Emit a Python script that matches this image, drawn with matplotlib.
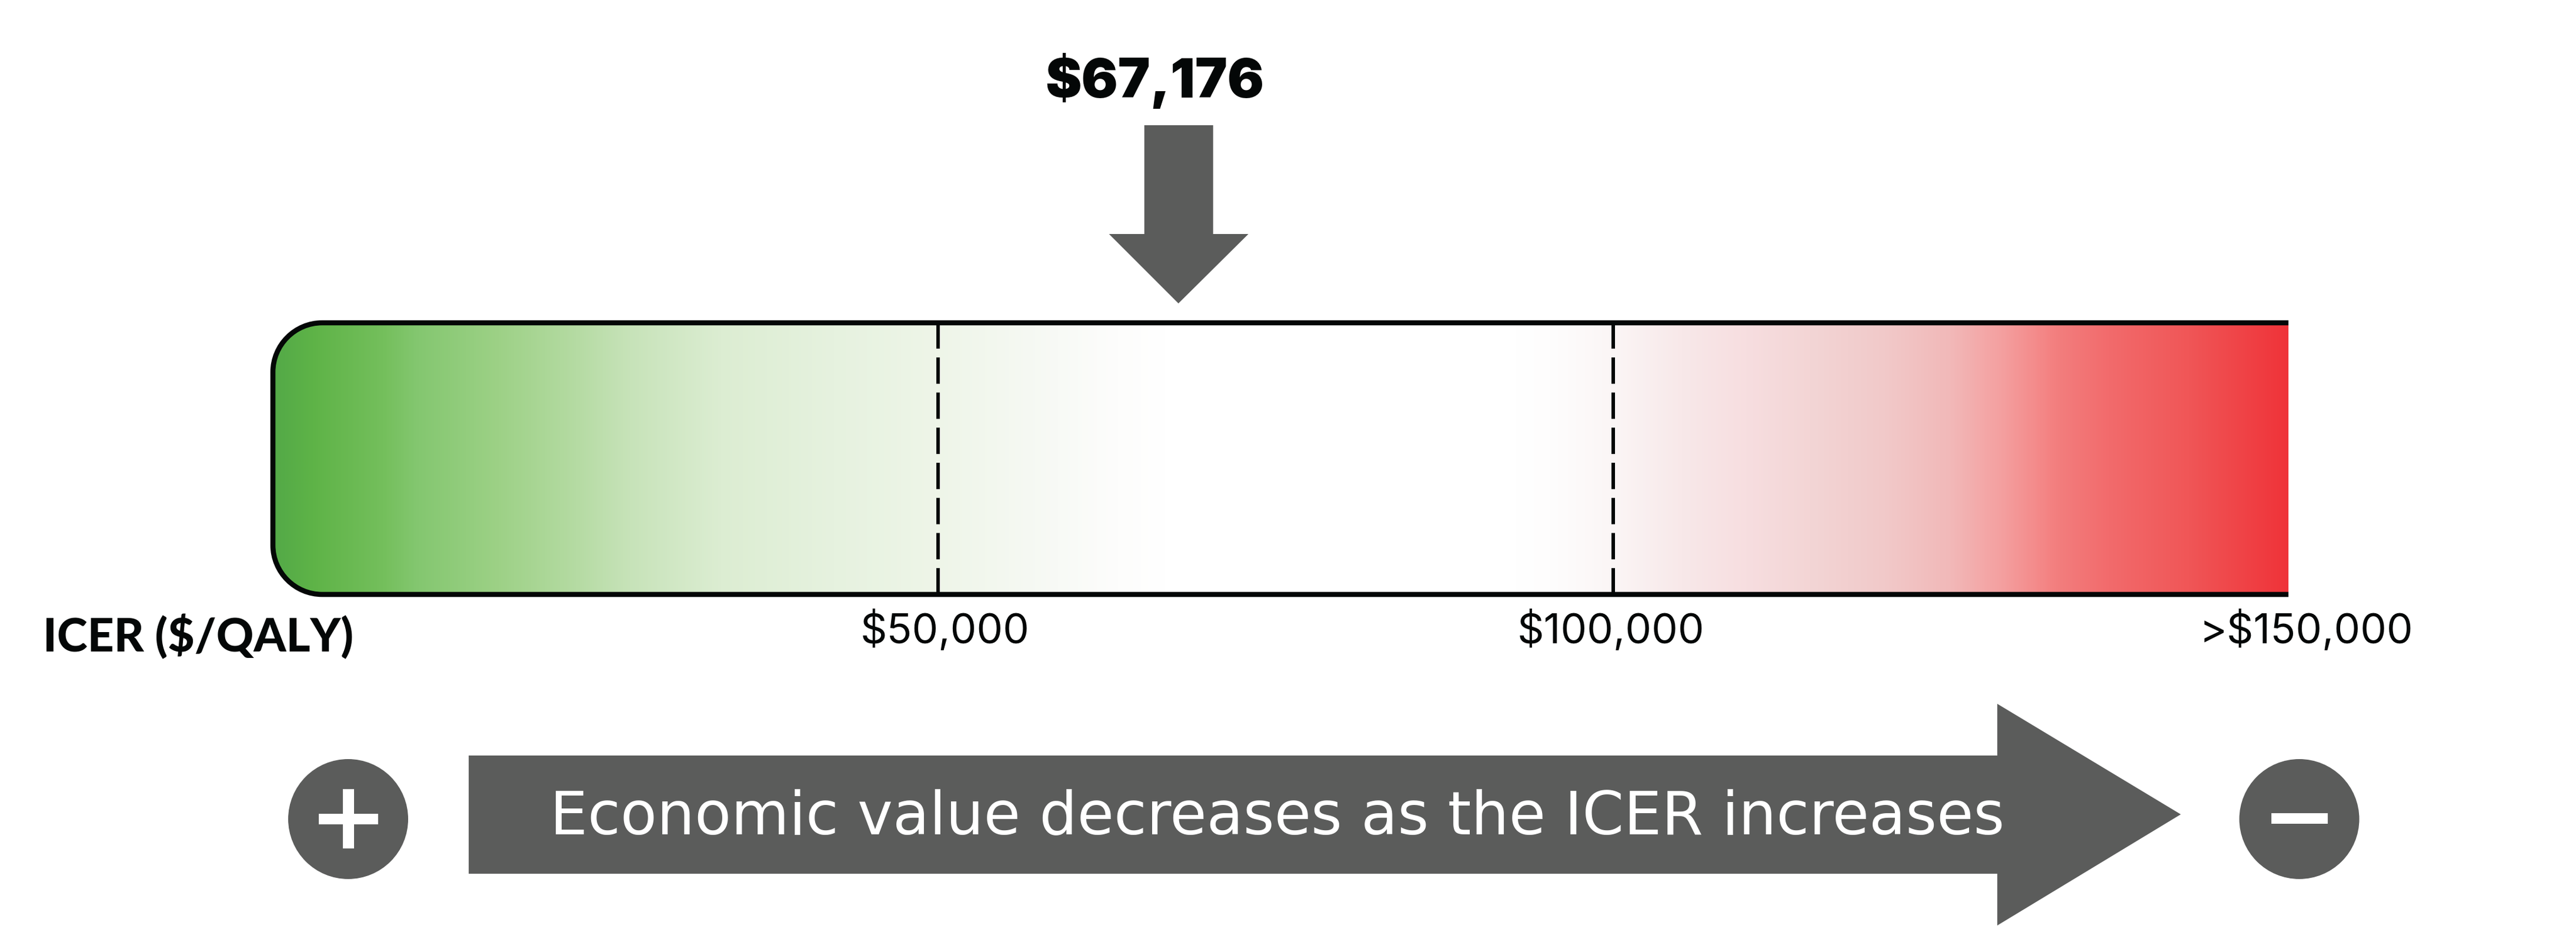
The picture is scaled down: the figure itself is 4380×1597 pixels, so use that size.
import numpy as np
import matplotlib
matplotlib.use("Agg")
import matplotlib.pyplot as plt
from matplotlib.colors import LinearSegmentedColormap
from matplotlib.patches import Circle, PathPatch, Polygon, Rectangle
from matplotlib.path import Path

W, H = 4380, 1597
GREY = "#5b5c5b"
INK = "#040707"

icer_label = "$67,176"
arrow_value = 67800  # where the arrow actually sits on the scale
thresholds = [50000, 100000]
tick_labels = ["$50,000", "$100,000", ">$150,000"]
tick_centers = [1607, 2739, 3922]
axis_label = "ICER ($/QALY)"
banner_text = "Economic value decreases as the ICER increases"

stop_values = [740, 1000, 3600, 8840, 11450, 17380, 23200, 27130, 33900, 42250, 49740,
               58930, 63280, 66770, 92900, 95340, 99870, 105180, 109930, 114680,
               120170, 124910, 128880, 132800, 136760, 142680, 150000]
stop_colors = ["#52a947", "#54aa47", "#5eb347", "#74bf5c", "#84c770", "#9dd186",
               "#b5dba3", "#c7e3b9", "#dcedd2", "#e6f2df", "#eef5e8", "#f8faf6",
               "#fdfdfc", "#ffffff", "#ffffff", "#fefdfd", "#fbf6f6", "#f8e8e9",
               "#f7dee0", "#f3d5d5", "#f1c9c9", "#f2b9b9", "#f49f9f", "#f37f7f",
               "#f26b6c", "#f05657", "#ef3339"]

def to_px(v):
    return 447 + v * 3444 / 150000

fig = plt.figure(figsize=(W / 100, H / 100), dpi=100)

# gradient bar lives on the dollar scale
ax_bar = fig.add_axes([464 / W, (H - 1011) / H, (3891 - 464) / W, 462 / H])
ax_bar.set_xlim(740, 150000)
ax_bar.set_ylim(0, 1)
ax_bar.axis("off")

pos = [(v - stop_values[0]) / (stop_values[-1] - stop_values[0]) for v in stop_values]
cmap = LinearSegmentedColormap.from_list("icer", list(zip(pos, stop_colors)), N=1024)
im = ax_bar.imshow(np.linspace(0, 1, 2048).reshape(1, -1), cmap=cmap, aspect="auto",
                   extent=(740, 150000, 0, 1), zorder=1)
for t in thresholds:
    ax_bar.plot([t, t], [0, 1], color=INK, lw=4.3, dashes=(7.5, 2.5),
                dash_capstyle="butt", zorder=2)

# everything else in pixel coordinates of the picture
ax = fig.add_axes([0, 0, 1, 1], facecolor="none")
ax.set_xlim(0, W)
ax.set_ylim(H, 0)
ax.axis("off")

left, right, top, bottom, r = 464, 3891, 549, 1011, 84
k = 0.448 * r
verts = [(right, top), (left + r, top),
         (left + k, top), (left, top + k), (left, top + r),
         (left, bottom - r),
         (left, bottom - k), (left + k, bottom), (left + r, bottom),
         (right, bottom)]
codes = [Path.MOVETO, Path.LINETO, Path.CURVE4, Path.CURVE4, Path.CURVE4, Path.LINETO,
         Path.CURVE4, Path.CURVE4, Path.CURVE4, Path.LINETO]
outline = PathPatch(Path(verts, codes), fc="none", ec=INK, lw=6.2, capstyle="butt", zorder=3)
ax.add_patch(outline)

clip = Path(verts + [(right, top)], codes + [Path.LINETO])
im.set_clip_path(clip, ax.transData)

# arrow above the bar
cx = to_px(arrow_value)
ax.add_patch(Polygon([(cx - 58, 213), (cx + 59, 213), (cx + 59, 398), (cx + 119, 398),
                      (cx, 516), (cx - 118, 398), (cx - 58, 398)], fc=GREY, ec="none"))
ax.text(1963, 166, icer_label, family="Inter", weight="black", fontsize=66.5,
        color=INK, ha="center", va="baseline")

ax.text(73, 1108, axis_label, family="Lato", weight="black", fontsize=56.5,
        color=INK, ha="left", va="baseline")
for lab, c in zip(tick_labels, tick_centers):
    ax.text(c, 1094, lab, family="Inter", weight="regular", fontsize=51,
            color=INK, ha="center", va="baseline")

# banner arrow
ax.add_patch(Polygon([(797, 1285), (3396, 1285), (3396, 1197), (3708, 1385),
                      (3396, 1574), (3396, 1486), (797, 1486)], fc=GREY, ec="none"))
ax.text(2172, 1418, banner_text, family="DejaVu Sans", fontsize=73,
        color="white", ha="center", va="baseline")

# plus and minus badges
ax.add_patch(Circle((592, 1393), 102, fc=GREY, ec="none"))
ax.add_patch(Rectangle((542, 1384), 101, 18, fc="white", ec="none"))
ax.add_patch(Rectangle((583, 1342), 19, 101, fc="white", ec="none"))
ax.add_patch(Circle((3909.5, 1393), 102, fc=GREY, ec="none"))
ax.add_patch(Rectangle((3862, 1383), 96, 18, fc="white", ec="none"))

fig.savefig("out.png", dpi=100, facecolor="white")
